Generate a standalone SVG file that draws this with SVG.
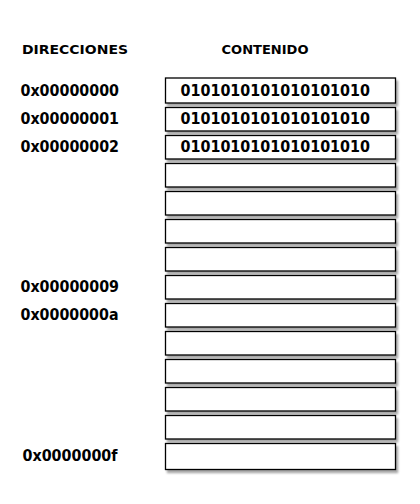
<svg xmlns="http://www.w3.org/2000/svg" width="420" height="504" viewBox="0 0 420 504">
<defs>
<filter id="sh" x="-5%" y="-20%" width="115%" height="160%">
<feGaussianBlur in="SourceAlpha" stdDeviation="1.2"/>
<feOffset dx="2" dy="2.5" result="b"/>
<feComponentTransfer><feFuncA type="linear" slope="0.35"/></feComponentTransfer>
<feMerge><feMergeNode/><feMergeNode in="SourceGraphic"/></feMerge>
</filter>
<style>
.cell{fill:#fff;stroke:#000;stroke-width:1.3;filter:url(#sh)}
.hd{font-family:"DejaVu Sans",sans-serif;font-weight:bold;font-size:13px;fill:#000}
.ad{font-family:"DejaVu Sans",sans-serif;font-weight:bold;font-size:15px;fill:#000}
.bin{font-family:"DejaVu Sans",sans-serif;font-weight:bold;font-size:15px;fill:#000}
</style>
</defs>
<rect width="420" height="504" fill="#fff"/>
<g id="headers">
<text class="hd" x="22" y="54" textLength="106" lengthAdjust="spacingAndGlyphs">DIRECCIONES</text>
<text class="hd" x="221.5" y="54" textLength="87" lengthAdjust="spacingAndGlyphs">CONTENIDO</text>
</g>
<g id="addresses">
<text class="ad" x="20.5" y="96" textLength="98.5" lengthAdjust="spacingAndGlyphs">0x00000000</text>
<text class="ad" x="20.5" y="124" textLength="98.5" lengthAdjust="spacingAndGlyphs">0x00000001</text>
<text class="ad" x="20.5" y="152" textLength="98.5" lengthAdjust="spacingAndGlyphs">0x00000002</text>
<text class="ad" x="20.5" y="292" textLength="98.5" lengthAdjust="spacingAndGlyphs">0x00000009</text>
<text class="ad" x="20.5" y="320" textLength="98" lengthAdjust="spacingAndGlyphs">0x0000000a</text>
<text class="ad" x="22.5" y="461" textLength="95" lengthAdjust="spacingAndGlyphs">0x0000000f</text>
</g>
<g id="memory">
<g id="cell0"><rect class="cell" x="165.5" y="78" width="230" height="25"/><text class="bin" x="180.5" y="96" textLength="189.5" lengthAdjust="spacingAndGlyphs">0101010101010101010</text></g>
<g id="cell1"><rect class="cell" x="165.5" y="107.5" width="230" height="23.5"/><text class="bin" x="180.5" y="124" textLength="189.5" lengthAdjust="spacingAndGlyphs">0101010101010101010</text></g>
<g id="cell2"><rect class="cell" x="165.5" y="135.5" width="230" height="23.5"/><text class="bin" x="180.5" y="152" textLength="189.5" lengthAdjust="spacingAndGlyphs">0101010101010101010</text></g>
<g id="cell3"><rect class="cell" x="165.5" y="163.5" width="230" height="23.5"/></g>
<g id="cell4"><rect class="cell" x="165.5" y="191.5" width="230" height="23.5"/></g>
<g id="cell5"><rect class="cell" x="165.5" y="219.5" width="230" height="23.5"/></g>
<g id="cell6"><rect class="cell" x="165.5" y="247.5" width="230" height="23.5"/></g>
<g id="cell7"><rect class="cell" x="165.5" y="275.5" width="230" height="23.5"/></g>
<g id="cell8"><rect class="cell" x="165.5" y="303.5" width="230" height="23.5"/></g>
<g id="cell9"><rect class="cell" x="165.5" y="331.5" width="230" height="23.5"/></g>
<g id="cell10"><rect class="cell" x="165.5" y="359.5" width="230" height="23.5"/></g>
<g id="cell11"><rect class="cell" x="165.5" y="387.5" width="230" height="23.5"/></g>
<g id="cell12"><rect class="cell" x="165.5" y="415.5" width="230" height="23.5"/></g>
<g id="cell13"><rect class="cell" x="165.5" y="443.5" width="230" height="26"/></g>
</g>
</svg>
